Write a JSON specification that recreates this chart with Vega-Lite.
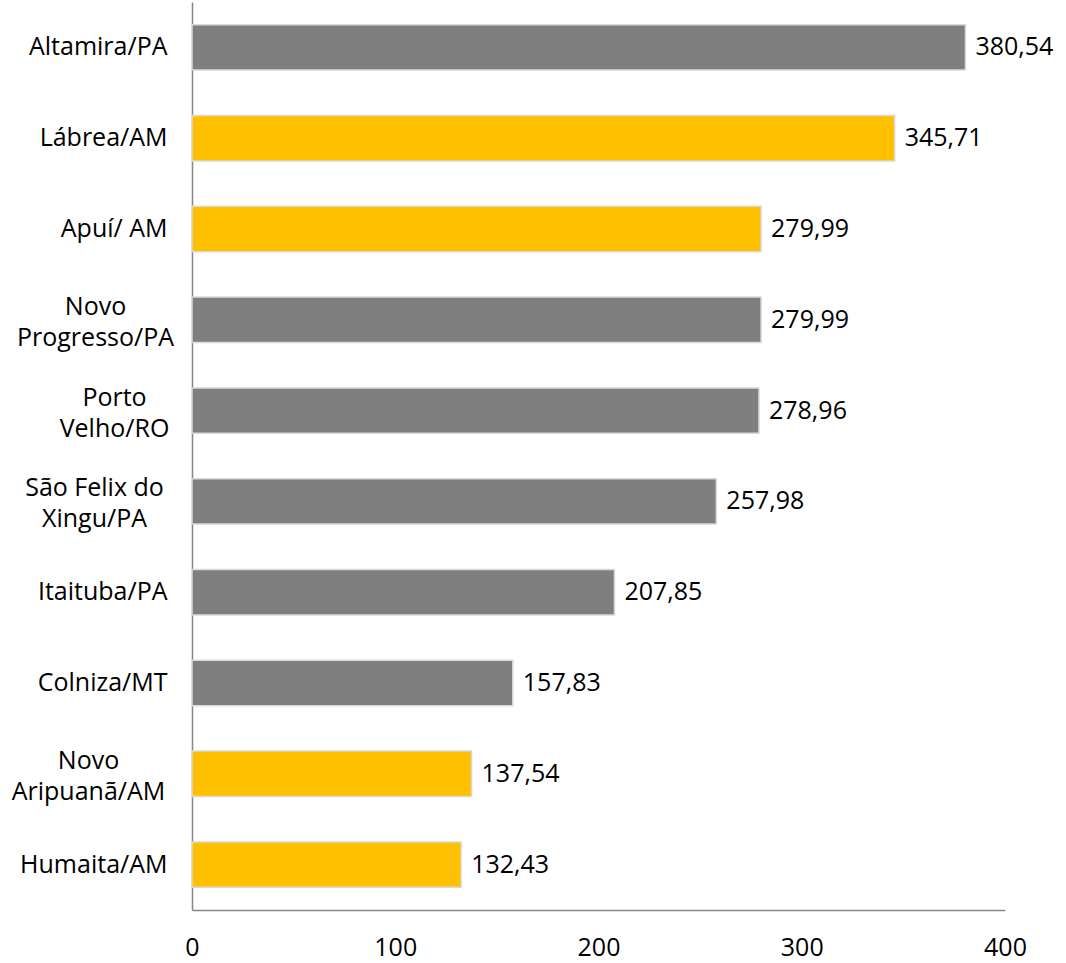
{
  "$schema": "https://vega.github.io/schema/vega-lite/v6.json",
  "autosize": "none",
  "width": 813,
  "height": 908,
  "padding": {"left": 192, "top": 2, "right": 61, "bottom": 53},
  "background": "white",
  "config": {
    "view": {"stroke": null},
    "locale": {"number": {"decimal": ",", "thousands": ".", "grouping": [3], "currency": ["R$", ""]}},
    "font": "Open Sans"
  },
  "data": {
    "values": [
      {"municipio": "Altamira/PA", "uf": "PA", "valor": 380.54},
      {"municipio": "Lábrea/AM", "uf": "AM", "valor": 345.71},
      {"municipio": "Apuí/ AM", "uf": "AM", "valor": 279.99},
      {"municipio": "Novo Progresso/PA", "uf": "PA", "valor": 279.99},
      {"municipio": "Porto Velho/RO", "uf": "RO", "valor": 278.96},
      {"municipio": "São Felix do Xingu/PA", "uf": "PA", "valor": 257.98},
      {"municipio": "Itaituba/PA", "uf": "PA", "valor": 207.85},
      {"municipio": "Colniza/MT", "uf": "MT", "valor": 157.83},
      {"municipio": "Novo Aripuanã/AM", "uf": "AM", "valor": 137.54},
      {"municipio": "Humaita/AM", "uf": "AM", "valor": 132.43}
    ]
  },
  "encoding": {
    "y": {
      "field": "municipio",
      "type": "nominal",
      "sort": null,
      "scale": {"paddingInner": 0.5, "paddingOuter": 0.25},
      "axis": {
        "title": null,
        "ticks": false,
        "domainColor": "#868686",
        "domainWidth": 1.5,
        "labelFont": "Open Sans",
        "labelFontSize": 25,
        "labelColor": "#000000",
        "labelLimit": 0,
        "labelLineHeight": 31,
        "labelExpr": "datum.value == 'Novo Progresso/PA' ? ['Novo', 'Progresso/PA'] : datum.value == 'Porto Velho/RO' ? ['Porto', 'Velho/RO'] : datum.value == 'São Felix do Xingu/PA' ? ['São Felix do', 'Xingu/PA'] : datum.value == 'Novo Aripuanã/AM' ? ['Novo', 'Aripuanã/AM'] : datum.label",
        "labelAlign": {
          "condition": {"test": "datum.value == 'Novo Progresso/PA' || datum.value == 'Porto Velho/RO' || datum.value == 'São Felix do Xingu/PA' || datum.value == 'Novo Aripuanã/AM'", "value": "center"},
          "value": "right"
        },
        "labelOffset": {
          "condition": {"test": "datum.value == 'Novo Progresso/PA' || datum.value == 'Porto Velho/RO' || datum.value == 'São Felix do Xingu/PA' || datum.value == 'Novo Aripuanã/AM'", "value": -13},
          "value": 0
        },
        "labelPadding": {
          "condition": [
            {"test": "datum.value == 'Novo Progresso/PA'", "value": 97},
            {"test": "datum.value == 'Porto Velho/RO'", "value": 78},
            {"test": "datum.value == 'São Felix do Xingu/PA'", "value": 98},
            {"test": "datum.value == 'Novo Aripuanã/AM'", "value": 104}
          ],
          "value": 25
        }
      }
    },
    "x": {
      "field": "valor",
      "type": "quantitative",
      "scale": {"domain": [0, 400], "nice": false},
      "axis": {
        "title": null,
        "values": [0, 100, 200, 300, 400],
        "grid": false,
        "ticks": false,
        "domainColor": "#868686",
        "domainWidth": 1.5,
        "labelFont": "Open Sans",
        "labelFontSize": 25,
        "labelColor": "#000000",
        "labelPadding": 25,
        "labelFlush": false,
        "labelOverlap": false
      }
    }
  },
  "layer": [
    {
      "mark": {"type": "bar", "stroke": "#D9D9D9", "strokeWidth": 1.5},
      "encoding": {
        "color": {
          "field": "uf",
          "type": "nominal",
          "scale": {"domain": ["AM", "PA", "RO", "MT"], "range": ["#FFC000", "#7F7F7F", "#7F7F7F", "#7F7F7F"]},
          "legend": null
        }
      }
    },
    {
      "mark": {"type": "text", "align": "left", "baseline": "middle", "dx": 10, "fontSize": 25, "font": "Open Sans", "color": "#000000"},
      "encoding": {
        "text": {"field": "valor", "type": "quantitative", "format": ".2f"}
      }
    }
  ]
}
